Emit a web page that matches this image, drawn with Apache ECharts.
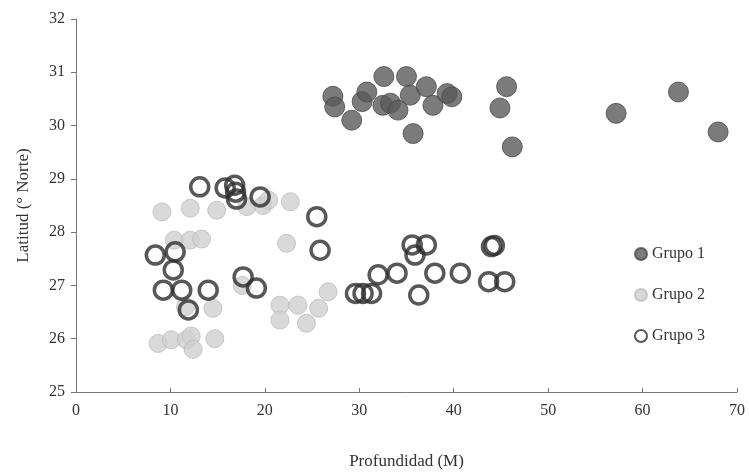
<!DOCTYPE html>
<html><head><meta charset="utf-8">
<script src="https://cdn.jsdelivr.net/npm/echarts@6/dist/echarts.min.js"></script>
<style>html,body{margin:0;padding:0;background:#fff}#c{width:749px;height:473px}</style>
</head><body><div id="c"></div>
<script>
const xTicks = [0,10,20,30,40,50,60,70];
const yTicks = [25,26,27,28,29,30,31,32];
const grupo1 = [[27.2,30.55],[27.4,30.35],[29.2,30.1],[30.3,30.45],[30.8,30.63],[32.6,30.92],[32.5,30.38],[33.3,30.42],[34.1,30.29],[35.0,30.92],[35.4,30.57],[35.7,29.85],[37.1,30.73],[37.8,30.38],[39.3,30.6],[39.8,30.54],[45.6,30.73],[44.9,30.33],[46.2,29.6],[57.2,30.23],[63.8,30.63],[68.0,29.88]];
const grupo2 = [[9.1,28.38],[12.1,28.45],[14.9,28.41],[18.1,28.48],[19.8,28.5],[20.4,28.6],[22.7,28.57],[10.4,27.85],[12.1,27.85],[13.3,27.87],[22.3,27.79],[17.6,27.0],[14.5,26.57],[11.6,26.6],[26.7,26.88],[21.6,26.63],[23.5,26.63],[25.7,26.57],[21.6,26.35],[24.4,26.29],[8.7,25.91],[10.1,25.98],[11.7,25.98],[12.2,26.05],[12.4,25.8],[14.7,26.0]];
const grupo3 = [[13.1,28.85],[15.8,28.83],[16.8,28.88],[16.9,28.75],[17.0,28.62],[19.5,28.66],[25.5,28.29],[25.85,27.66],[8.4,27.57],[10.5,27.63],[10.3,27.29],[9.25,26.91],[11.2,26.91],[14.0,26.91],[11.9,26.54],[17.7,27.16],[19.1,26.95],[29.6,26.85],[30.4,26.85],[31.3,26.85],[32.0,27.2],[34.0,27.23],[35.6,27.76],[37.1,27.76],[35.9,27.57],[36.3,26.82],[38.0,27.23],[40.7,27.23],[44.0,27.73],[44.3,27.75],[43.7,27.07],[45.4,27.07]];
const serif = '"Liberation Serif","DejaVu Serif",serif';
const chart = echarts.init(document.getElementById('c'));
chart.setOption({
  animation:false,
  backgroundColor:'#fff',
  grid:{left:76,right:12,top:19,bottom:81,containLabel:false,outerBoundsMode:'none'},
  xAxis:{type:'value',min:xTicks[0],max:xTicks[xTicks.length-1],interval:10,
    name:'Profundidad (M)',nameLocation:'middle',nameGap:61,
    nameTextStyle:{fontFamily:serif,fontSize:17,color:'#333'},
    axisLine:{show:true,lineStyle:{color:'#777',width:1}},
    axisTick:{show:true,inside:true,length:4,lineStyle:{color:'#777'}},
    axisLabel:{fontFamily:serif,fontSize:16,color:'#333',margin:11},
    splitLine:{show:false}},
  yAxis:{type:'value',min:yTicks[0],max:yTicks[yTicks.length-1],interval:1,
    name:'Latitud (° Norte)',nameLocation:'middle',nameGap:44,
    nameTextStyle:{fontFamily:serif,fontSize:17,color:'#333'},
    axisLine:{show:true,lineStyle:{color:'#777',width:1}},
    axisTick:{show:true,length:5,lineStyle:{color:'#777'}},
    axisLabel:{fontFamily:serif,fontSize:16,color:'#333',margin:11},
    splitLine:{show:false}},
  legend:{orient:'vertical',left:629,top:241,itemGap:25,itemWidth:12,itemHeight:12,
    textStyle:{fontFamily:serif,fontSize:16,color:'#333'},
    data:[{name:'Grupo 1',icon:'circle'},{name:'Grupo 2',icon:'circle'},{name:'Grupo 3',icon:'circle'}]},
  series:[
    {name:'Grupo 1',type:'scatter',data:grupo1,symbol:'circle',symbolSize:20,
      itemStyle:{color:'#5a5a5a',borderColor:'#4a4a4a',borderWidth:1}},
    {name:'Grupo 2',type:'scatter',data:grupo2,symbol:'circle',symbolSize:18,
      itemStyle:{color:'#cfcfcf',borderColor:'#bdbdbd',borderWidth:1}},
    {name:'Grupo 3',type:'scatter',data:grupo3,symbol:'circle',symbolSize:18,
      itemStyle:{color:'rgba(255,255,255,0)',borderColor:'#2e2e2e',borderWidth:3.5}}
  ]
});
</script></body></html>
